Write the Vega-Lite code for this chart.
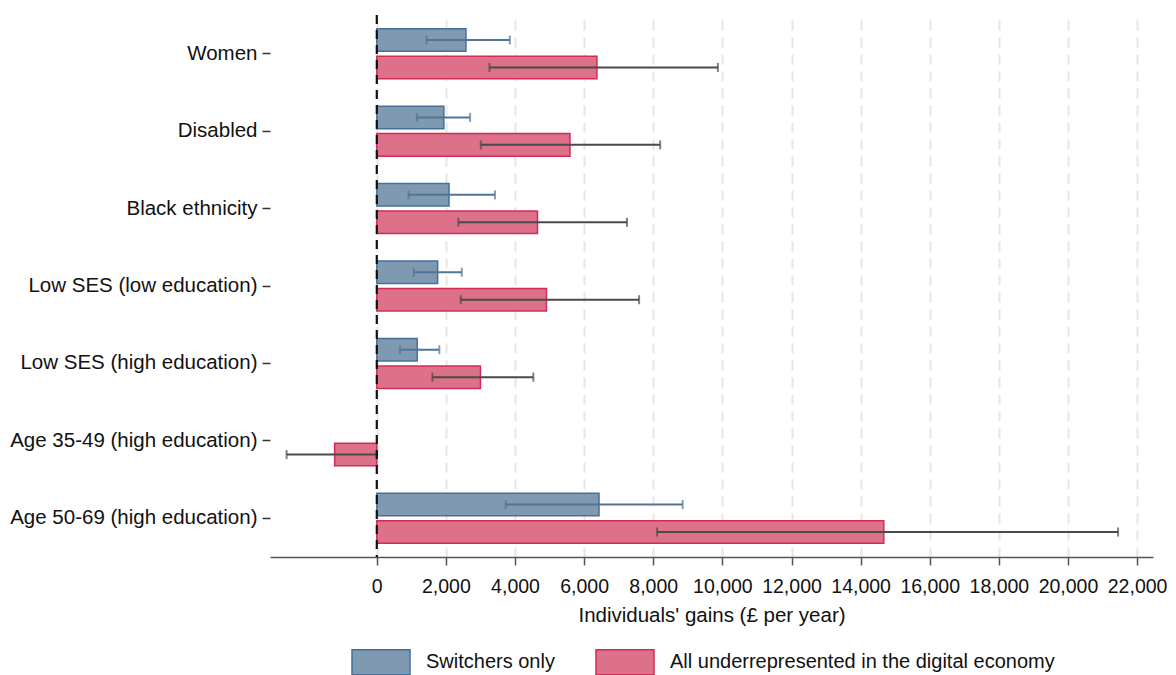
{
  "$schema": "https://vega.github.io/schema/vega-lite/v6.json",
  "autosize": {"type": "none"},
  "width": 883,
  "height": 542,
  "padding": {"left": 270, "top": 15, "right": 23, "bottom": 118},
  "background": "white",
  "config": {
    "font": "Liberation Sans",
    "view": {"stroke": null},
    "axis": {"labelFont": "Liberation Sans", "titleFont": "Liberation Sans"},
    "legend": {"labelFont": "Liberation Sans"}
  },
  "data": {
    "values": [
      {"group": "Women", "series": "Switchers only", "value": 2580, "lo": 1440, "hi": 3850},
      {"group": "Women", "series": "All underrepresented in the digital economy", "value": 6370, "lo": 3260, "hi": 9870},
      {"group": "Disabled", "series": "Switchers only", "value": 1940, "lo": 1160, "hi": 2700},
      {"group": "Disabled", "series": "All underrepresented in the digital economy", "value": 5590, "lo": 3010, "hi": 8200},
      {"group": "Black ethnicity", "series": "Switchers only", "value": 2090, "lo": 920, "hi": 3420},
      {"group": "Black ethnicity", "series": "All underrepresented in the digital economy", "value": 4650, "lo": 2360, "hi": 7240},
      {"group": "Low SES (low education)", "series": "Switchers only", "value": 1760, "lo": 1070, "hi": 2460},
      {"group": "Low SES (low education)", "series": "All underrepresented in the digital economy", "value": 4910, "lo": 2430, "hi": 7590},
      {"group": "Low SES (high education)", "series": "Switchers only", "value": 1170, "lo": 670, "hi": 1810},
      {"group": "Low SES (high education)", "series": "All underrepresented in the digital economy", "value": 3000, "lo": 1610, "hi": 4530},
      {"group": "Age 35-49 (high education)", "series": "All underrepresented in the digital economy", "value": -1220, "lo": -2610, "hi": 0},
      {"group": "Age 50-69 (high education)", "series": "Switchers only", "value": 6430, "lo": 3730, "hi": 8850},
      {"group": "Age 50-69 (high education)", "series": "All underrepresented in the digital economy", "value": 14670, "lo": 8110, "hi": 21450}
    ]
  },
  "encoding": {
    "y": {
      "field": "group", "type": "nominal", "title": null,
      "scale": {"domain": ["Women", "Disabled", "Black ethnicity", "Low SES (low education)", "Low SES (high education)", "Age 35-49 (high education)", "Age 50-69 (high education)"], "paddingInner": 0, "paddingOuter": 0},
      "axis": {"domain": false, "ticks": true, "tickSize": 8, "tickColor": "#333", "tickWidth": 1.5, "labelFontSize": 20.5, "labelColor": "#111", "labelPadding": 5, "labelLimit": 400, "grid": false}
    },
    "yOffset": {
      "field": "series", "type": "nominal",
      "scale": {"domain": ["Switchers only", "All underrepresented in the digital economy"], "paddingInner": 0.18, "paddingOuter": 0.5}
    }
  },
  "layer": [
    {
      "mark": {"type": "bar", "strokeWidth": 1.5, "orient": "horizontal"},
      "encoding": {
        "x": {
          "field": "value", "type": "quantitative",
          "scale": {"domain": [-3090, 22460], "nice": false, "zero": false},
          "axis": {
            "values": [0, 2000, 4000, 6000, 8000, 10000, 12000, 14000, 16000, 18000, 20000, 22000],
            "format": ",d",
            "title": "Individuals' gains (£ per year)",
            "titleFontSize": 20.5, "titleFontWeight": "normal", "titleColor": "#111", "titlePadding": 10,
            "labelFontSize": 19.5, "labelColor": "#111", "labelPadding": 12,
            "domainColor": "#555", "domainWidth": 1.5,
            "tickColor": "#555", "tickWidth": 1.5, "tickSize": 8,
            "grid": true, "gridColor": "#e6e6e6", "gridWidth": 2, "gridDash": [10, 7]
          }
        },
        "fill": {
          "field": "series", "type": "nominal",
          "scale": {"domain": ["Switchers only", "All underrepresented in the digital economy"], "range": ["#7f9ab0", "#dc7189"]},
          "legend": {
            "title": null, "orient": "none", "direction": "horizontal",
            "legendX": 81, "legendY": 617,
            "symbolType": "M-1,-0.43H1V0.43H-1Z", "symbolSize": 3364, "symbolStrokeWidth": 1.5, "symbolOpacity": 1,
            "labelFontSize": 20, "labelColor": "#111", "labelOffset": 15, "labelLimit": 600, "columnPadding": 38, "padding": 0
          }
        },
        "stroke": {
          "field": "series", "type": "nominal",
          "scale": {"domain": ["Switchers only", "All underrepresented in the digital economy"], "range": ["#46709a", "#d22b58"]}
        }
      }
    },
    {
      "mark": {"type": "rule", "strokeWidth": 2},
      "encoding": {
        "x": {"field": "lo", "type": "quantitative"},
        "x2": {"field": "hi"},
        "color": {"condition": {"test": "datum.series == 'Switchers only'", "value": "#4f7596"}, "value": "#4a4a4a"}
      }
    },
    {
      "mark": {"type": "tick", "orient": "vertical", "size": 9, "thickness": 2},
      "encoding": {
        "x": {"field": "lo", "type": "quantitative"},
        "color": {"condition": {"test": "datum.series == 'Switchers only'", "value": "#4f7596"}, "value": "#4a4a4a"}
      }
    },
    {
      "mark": {"type": "tick", "orient": "vertical", "size": 9, "thickness": 2},
      "encoding": {
        "x": {"field": "hi", "type": "quantitative"},
        "color": {"condition": {"test": "datum.series == 'Switchers only'", "value": "#4f7596"}, "value": "#4a4a4a"}
      }
    },
    {
      "data": {"values": [{"zero": 0}]},
      "mark": {"type": "rule", "color": "#111", "strokeWidth": 2.2, "strokeDash": [9, 6]},
      "encoding": {"x": {"field": "zero", "type": "quantitative"}, "y": null, "yOffset": null}
    }
  ]
}
